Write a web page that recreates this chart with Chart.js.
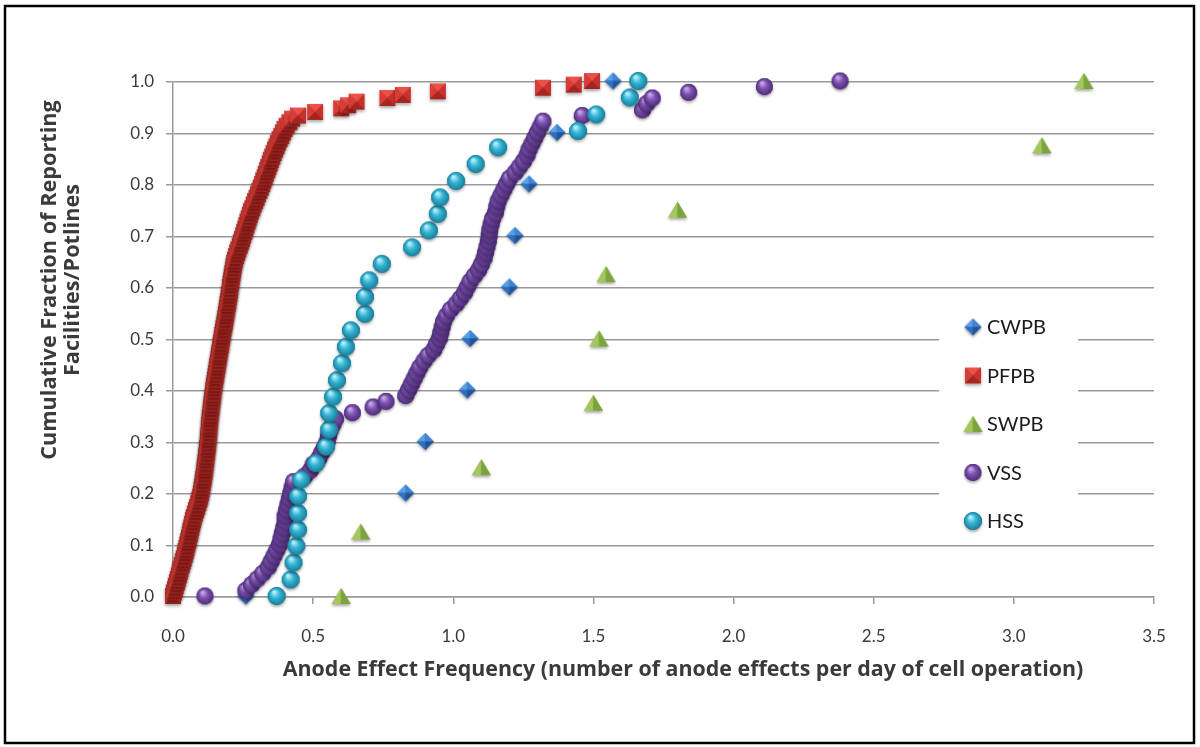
<!DOCTYPE html>
<html>
<head>
<meta charset="utf-8">
<script src="https://cdn.jsdelivr.net/npm/chart.js@4.4.0/dist/chart.umd.min.js"></script>
<style>
  html, body { margin: 0; padding: 0; background: #fff; }
  #wrap { width: 1200px; height: 747px; }
</style>
</head>
<body>
<div id="wrap"><canvas id="chart" width="1200" height="747"></canvas></div>
<script>
// Series labels
const seriesNames = ['CWPB', 'PFPB', 'SWPB', 'VSS', 'HSS'];

// Axis tick values
const xTicks = [0.0, 0.5, 1.0, 1.5, 2.0, 2.5, 3.0, 3.5];
const yTicks = [0.0, 0.1, 0.2, 0.3, 0.4, 0.5, 0.6, 0.7, 0.8, 0.9, 1.0];

// CWPB
const cwpbX = [0.26, 0.83, 0.90, 1.05, 1.06, 1.20, 1.22, 1.27, 1.37, 1.57];
const cwpbY = [0.0, 0.2, 0.3, 0.4, 0.5, 0.6, 0.7, 0.8, 0.9, 1.0];

// PFPB
const pfpbX = [
  0.000, 0.003, 0.007, 0.010, 0.014, 0.017, 0.021, 0.024,
  0.027, 0.031, 0.035, 0.038, 0.042, 0.045, 0.048, 0.051,
  0.054, 0.057, 0.060, 0.062, 0.065, 0.068, 0.071, 0.074,
  0.078, 0.082, 0.086, 0.090, 0.094, 0.097, 0.100, 0.102,
  0.104, 0.106, 0.108, 0.110, 0.112, 0.113, 0.115, 0.116,
  0.118, 0.119, 0.121, 0.122, 0.124, 0.125, 0.126, 0.127,
  0.128, 0.129, 0.130, 0.131, 0.132, 0.134, 0.135, 0.137,
  0.138, 0.140, 0.141, 0.143, 0.144, 0.146, 0.148, 0.150,
  0.152, 0.154, 0.156, 0.158, 0.160, 0.162, 0.164, 0.166,
  0.168, 0.170, 0.172, 0.174, 0.176, 0.178, 0.180, 0.183,
  0.185, 0.187, 0.189, 0.191, 0.193, 0.195, 0.197, 0.199,
  0.201, 0.203, 0.204, 0.206, 0.208, 0.210, 0.212, 0.214,
  0.216, 0.218, 0.221, 0.225, 0.229, 0.233, 0.238, 0.242,
  0.246, 0.250, 0.254, 0.258, 0.262, 0.266, 0.270, 0.274,
  0.278, 0.283, 0.288, 0.293, 0.298, 0.303, 0.308, 0.313,
  0.318, 0.322, 0.327, 0.331, 0.336, 0.340, 0.345, 0.349,
  0.354, 0.359, 0.364, 0.369, 0.374, 0.380, 0.386, 0.392,
  0.398, 0.405, 0.415, 0.425, 0.446, 0.507, 0.600, 0.625,
  0.655, 0.765, 0.820, 0.945, 1.320, 1.430, 1.495
];
const pfpbY = [
  0.000, 0.007, 0.013, 0.020, 0.027, 0.033, 0.040, 0.047, 0.053, 0.060, 0.067, 0.073, 0.080, 0.087, 0.093,
  0.100, 0.107, 0.113, 0.120, 0.127, 0.133, 0.140, 0.147, 0.153, 0.160, 0.167, 0.173, 0.180, 0.187, 0.193,
  0.200, 0.207, 0.213, 0.220, 0.227, 0.233, 0.240, 0.247, 0.253, 0.260, 0.267, 0.273, 0.280, 0.287, 0.293,
  0.300, 0.307, 0.313, 0.320, 0.327, 0.333, 0.340, 0.347, 0.353, 0.360, 0.367, 0.373, 0.380, 0.387, 0.393,
  0.400, 0.407, 0.413, 0.420, 0.427, 0.433, 0.440, 0.447, 0.453, 0.460, 0.467, 0.473, 0.480, 0.487, 0.493,
  0.500, 0.507, 0.513, 0.520, 0.527, 0.533, 0.540, 0.547, 0.553, 0.560, 0.567, 0.573, 0.580, 0.587, 0.593,
  0.600, 0.607, 0.613, 0.620, 0.627, 0.633, 0.640, 0.647, 0.653, 0.660, 0.667, 0.673, 0.680, 0.687, 0.693,
  0.700, 0.707, 0.713, 0.720, 0.727, 0.733, 0.740, 0.747, 0.753, 0.760, 0.767, 0.773, 0.780, 0.787, 0.793,
  0.800, 0.807, 0.813, 0.820, 0.827, 0.833, 0.840, 0.847, 0.853, 0.860, 0.867, 0.873, 0.880, 0.887, 0.893,
  0.900, 0.907, 0.913, 0.920, 0.927, 0.933, 0.940, 0.947, 0.953, 0.960, 0.967, 0.973, 0.980, 0.987, 0.993,
  1.000
];

// SWPB
const swpbX = [0.60, 0.67, 1.10, 1.50, 1.52, 1.545, 1.80, 3.10, 3.25];
const swpbY = [0.000, 0.125, 0.250, 0.375, 0.500, 0.625, 0.750, 0.875, 1.000];

// VSS
const vssX = [
  0.114, 0.26, 0.28, 0.30, 0.32, 0.34, 0.35, 0.36, 0.37, 0.38,
  0.385, 0.39, 0.395, 0.40, 0.40, 0.405, 0.41, 0.415, 0.42, 0.425,
  0.43, 0.47, 0.49, 0.50, 0.52, 0.53, 0.54, 0.55, 0.555, 0.56,
  0.57, 0.58, 0.64, 0.714, 0.76, 0.83, 0.84, 0.85, 0.86, 0.87,
  0.88, 0.895, 0.91, 0.93, 0.94, 0.95, 0.955, 0.96, 0.965, 0.975,
  0.99, 1.01, 1.025, 1.04, 1.05, 1.06, 1.075, 1.09, 1.10, 1.11,
  1.115, 1.12, 1.125, 1.128, 1.13, 1.135, 1.14, 1.15, 1.155, 1.16,
  1.17, 1.18, 1.19, 1.20, 1.22, 1.235, 1.25, 1.263, 1.27, 1.28,
  1.29, 1.30, 1.31, 1.32, 1.46, 1.675, 1.69, 1.71, 1.84, 2.11,
  2.38
];
const vssY = [
  0.000, 0.011, 0.022, 0.033, 0.044, 0.056, 0.067, 0.078, 0.089,
  0.100, 0.111, 0.122, 0.133, 0.144, 0.156, 0.167, 0.178, 0.189,
  0.200, 0.211, 0.222, 0.233, 0.244, 0.256, 0.267, 0.278, 0.289,
  0.300, 0.311, 0.322, 0.333, 0.344, 0.356, 0.367, 0.378, 0.389,
  0.400, 0.411, 0.422, 0.433, 0.444, 0.456, 0.467, 0.478, 0.489,
  0.500, 0.511, 0.522, 0.533, 0.544, 0.556, 0.567, 0.578, 0.589,
  0.600, 0.611, 0.622, 0.633, 0.644, 0.656, 0.667, 0.678, 0.689,
  0.700, 0.711, 0.722, 0.733, 0.744, 0.756, 0.767, 0.778, 0.789,
  0.800, 0.811, 0.822, 0.833, 0.844, 0.856, 0.867, 0.878, 0.889,
  0.900, 0.911, 0.922, 0.933, 0.944, 0.956, 0.967, 0.978, 0.989,
  1.000
];

// HSS
const hssX = [
  0.37, 0.42, 0.43, 0.44, 0.446, 0.446, 0.446, 0.457, 0.51, 0.546,
  0.557, 0.557, 0.571, 0.585, 0.603, 0.617, 0.635, 0.685, 0.685, 0.70,
  0.745, 0.853, 0.913, 0.945, 0.953, 1.01, 1.08, 1.16, 1.445, 1.51,
  1.63, 1.66
];
const hssY = [
  0.000, 0.032, 0.065, 0.097, 0.129, 0.161, 0.194, 0.226, 0.258, 0.290,
  0.323, 0.355, 0.387, 0.419, 0.452, 0.484, 0.516, 0.548, 0.581, 0.613,
  0.645, 0.677, 0.710, 0.742, 0.774, 0.806, 0.839, 0.871, 0.903, 0.935,
  0.968, 1.000
];

const xTitle = 'Anode Effect Frequency (number of anode effects per day of cell operation)';
const yTitle = ['Cumulative Fraction of Reporting', 'Facilities/Potlines'];

// ---- marker sprites (Excel-style bevelled markers) ----
function makeSprite(w, h, silhouette, faces) {
  const c = document.createElement('canvas');
  c.width = w + 8;
  c.height = h + 8;
  const g = c.getContext('2d');
  g.translate(c.width / 2, c.height / 2 - 1);
  g.save();
  g.shadowColor = 'rgba(0,0,0,0.35)';
  g.shadowBlur = 3;
  g.shadowOffsetY = 2;
  silhouette(g);
  g.restore();
  faces(g);
  return c;
}

function poly(g, pts, fill) {
  g.beginPath();
  g.moveTo(pts[0][0], pts[0][1]);
  for (let i = 1; i < pts.length; i++) g.lineTo(pts[i][0], pts[i][1]);
  g.closePath();
  g.fillStyle = fill;
  g.fill();
}

function sphere(d, light, mid, dark) {
  const r = d / 2;
  return makeSprite(d, d, g => {
    g.beginPath(); g.arc(0, 0, r, 0, Math.PI * 2); g.fillStyle = dark; g.fill();
  }, g => {
    const grad = g.createRadialGradient(-r * 0.3, -r * 0.45, r * 0.1, 0, 0, r);
    grad.addColorStop(0, light);
    grad.addColorStop(0.45, mid);
    grad.addColorStop(1, dark);
    g.beginPath(); g.arc(0, 0, r, 0, Math.PI * 2); g.fillStyle = grad; g.fill();
  });
}

function diamond(d) {
  const r = d / 2;
  const T = [0, -r], R = [r, 0], B = [0, r], L = [-r, 0], C = [0, 0];
  return makeSprite(d, d, g => poly(g, [T, R, B, L], '#2a66b4'), g => {
    poly(g, [T, L, C], '#5b9fe6');
    poly(g, [T, R, C], '#3f85d4');
    poly(g, [L, B, C], '#306fbe');
    poly(g, [R, B, C], '#225597');
  });
}

function square(d) {
  const r = d / 2;
  const TL = [-r, -r], TR = [r, -r], BR = [r, r], BL = [-r, r], C = [0, 0];
  return makeSprite(d, d, g => poly(g, [TL, TR, BR, BL], '#b52b27'), g => {
    poly(g, [TL, TR, C], '#e9524b');
    poly(g, [TL, BL, C], '#d63d37');
    poly(g, [TR, BR, C], '#c8322d');
    poly(g, [BL, BR, C], '#a82420');
  });
}

function triangle(w, h) {
  const A = [0, -h / 2], BL = [-w / 2, h / 2], BR = [w / 2, h / 2], M = [0, h / 2];
  return makeSprite(w, h, g => poly(g, [A, BR, BL], '#7ba23a'), g => {
    poly(g, [A, M, BL], '#a2c75a');
    poly(g, [A, BR, M], '#7ca43c');
  });
}

const sprites = [
  diamond(17),
  square(16),
  triangle(19, 16),
  sphere(17, '#c4a9e4', '#7d52b0', '#4f2c7a'),
  sphere(18, '#b8eefa', '#33b5d5', '#1b7d98')
];

const seriesX = [cwpbX, pfpbX, swpbX, vssX, hssX];
const seriesY = [cwpbY, pfpbY, swpbY, vssY, hssY];

const datasets = seriesNames.map((name, k) => ({
  label: name,
  data: seriesX[k].map((v, i) => ({ x: v, y: seriesY[k][i] })),
  pointStyle: sprites[k],
  pointRadius: 8,
  showLine: false,
  clip: false,
  order: seriesNames.length - k
}));

const GRID = '#9a9a9a';
const TEXT = '#3a3a3a';
const FONT = 'Lato, "Open Sans", sans-serif';
const TITLE_FONT = '"Open Sans", Lato, sans-serif';

// pick a font size so the text spans the given width
function fitFont(ctx, text, weight, family, width) {
  ctx.font = weight + ' 100px ' + family;
  const size = 100 * width / ctx.measureText(text).width;
  return weight + ' ' + size.toFixed(1) + 'px ' + family;
}

// Frame, axis titles and the boxed legend in the plot
const framePlugin = {
  id: 'framePlugin',
  beforeDraw(chart) {
    const ctx = chart.ctx;
    ctx.save();
    ctx.fillStyle = '#fff';
    ctx.fillRect(0, 0, chart.width, chart.height);
    ctx.restore();
  },
  afterDraw(chart) {
    const ctx = chart.ctx;
    ctx.save();
    // outer frame
    ctx.strokeStyle = '#000';
    ctx.lineWidth = 2.5;
    ctx.strokeRect(5, 6, 1189, 737);

    // axis titles
    ctx.fillStyle = TEXT;
    ctx.textAlign = 'center';
    ctx.textBaseline = 'middle';
    ctx.font = fitFont(ctx, xTitle, 'bold', TITLE_FONT, 800);
    ctx.fillText(xTitle, 683, 670);
    ctx.save();
    ctx.translate(61, 280);
    ctx.rotate(-Math.PI / 2);
    ctx.font = fitFont(ctx, yTitle[0], 'bold', TITLE_FONT, 360);
    ctx.fillText(yTitle[0], 0, -11);
    ctx.fillText(yTitle[1], 0, 12);
    ctx.restore();

    // legend box
    ctx.fillStyle = '#fff';
    ctx.fillRect(939, 301, 139, 238);
    ctx.font = '20px ' + FONT;
    ctx.textAlign = 'left';
    ctx.fillStyle = '#1a1a1a';
    chart.data.datasets.forEach((ds, k) => {
      const cy = 327 + k * 48.5;
      const img = ds.pointStyle;
      ctx.drawImage(img, 973 - img.width / 2, cy - img.height / 2 + 1);
      ctx.fillText(ds.label, 987, cy + 1);
    });
    ctx.restore();
  }
};

new Chart(document.getElementById('chart'), {
  type: 'scatter',
  data: { datasets: datasets },
  plugins: [framePlugin],
  options: {
    responsive: false,
    animation: false,
    devicePixelRatio: 1,
    layout: { padding: { top: 82, right: 46, left: 0, bottom: 0 } },
    plugins: {
      legend: { display: false },
      tooltip: { enabled: false }
    },
    scales: {
      x: {
        type: 'linear',
        min: 0,
        max: 3.5,
        afterBuildTicks: scale => { scale.ticks = xTicks.map(v => ({ value: v })); },
        afterFit: scale => { scale.height = 150; },
        ticks: {
          callback: v => v.toFixed(1),
          color: TEXT,
          font: { family: FONT, size: 17 },
          padding: 22,
          maxRotation: 0
        },
        grid: { drawOnChartArea: false, drawTicks: true, tickLength: 7, color: GRID, lineWidth: 1.5 },
        border: { color: GRID, width: 1.5 }
      },
      y: {
        type: 'linear',
        min: 0,
        max: 1,
        afterBuildTicks: scale => { scale.ticks = yTicks.map(v => ({ value: v })); },
        afterFit: scale => { scale.width = 173; },
        ticks: {
          callback: v => v.toFixed(1),
          color: TEXT,
          font: { family: FONT, size: 17 },
          padding: 12
        },
        grid: { drawTicks: true, tickLength: 7, color: GRID, lineWidth: 1.5 },
        border: { color: GRID, width: 1.5 }
      }
    }
  }
});
</script>
</body>
</html>
